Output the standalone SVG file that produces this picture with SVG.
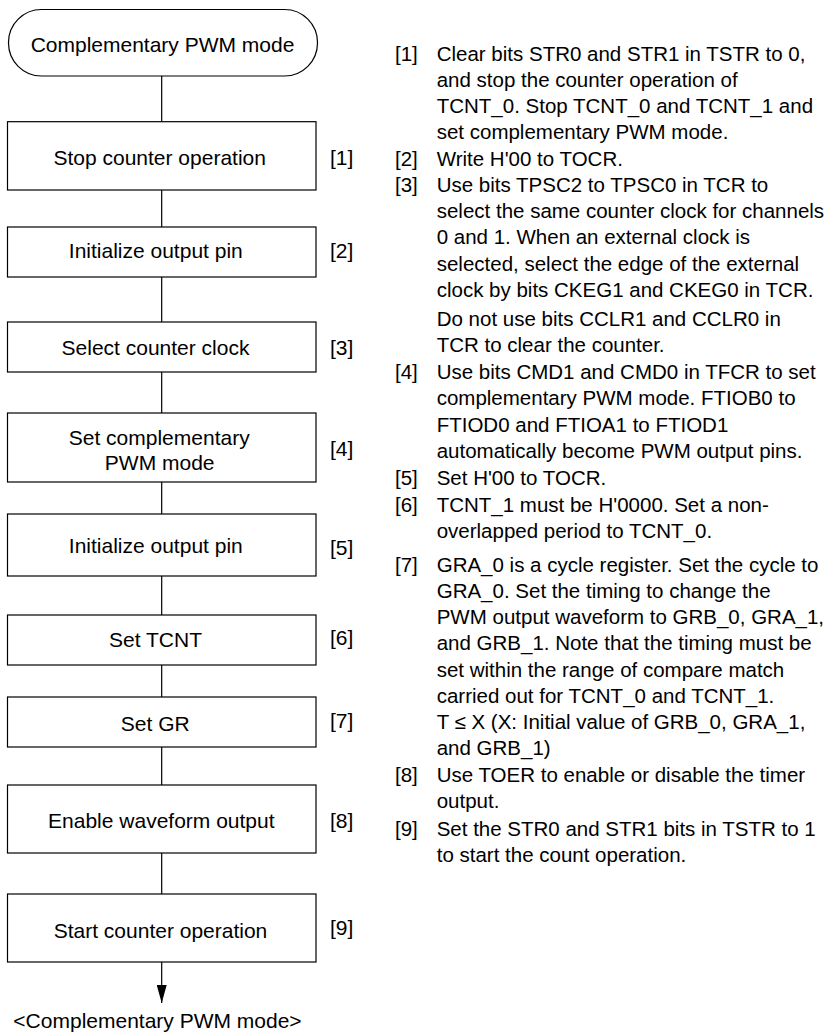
<svg xmlns="http://www.w3.org/2000/svg" width="840" height="1032" viewBox="0 0 840 1032">
<style>
.shape{fill:#fff;stroke:#000;stroke-width:1.2}
.t{font-family:"Liberation Sans",Arial,sans-serif;font-size:21px;fill:#000;text-anchor:middle}
.lbl{font-family:"Liberation Sans",Arial,sans-serif;font-size:21px;fill:#000}
.d{font-family:"Liberation Sans",Arial,sans-serif;font-size:20.5px;fill:#000}
.c{stroke:#000;stroke-width:1.2;fill:none}
</style>
<defs>
<marker id="ah" markerWidth="18" markerHeight="10" refX="18" refY="5" orient="auto" markerUnits="userSpaceOnUse" viewBox="0 0 18 10">
<path d="M0,0 L18,5 L0,10 Z" fill="#000"/>
</marker>
</defs>
<rect width="840" height="1032" fill="#fff"/>
<g id="connectors">
<line class="c" x1="161.7" y1="76" x2="161.7" y2="121.7"/>
<line class="c" x1="161.7" y1="190" x2="161.7" y2="227"/>
<line class="c" x1="161.7" y1="277" x2="161.7" y2="322"/>
<line class="c" x1="161.7" y1="372" x2="161.7" y2="413"/>
<line class="c" x1="161.7" y1="482" x2="161.7" y2="514"/>
<line class="c" x1="161.7" y1="576" x2="161.7" y2="615"/>
<line class="c" x1="161.7" y1="665" x2="161.7" y2="697"/>
<line class="c" x1="161.7" y1="747" x2="161.7" y2="785"/>
<line class="c" x1="161.7" y1="853" x2="161.7" y2="894"/>
<line class="c" x1="161.7" y1="962" x2="161.7" y2="1003" marker-end="url(#ah)"/>
</g>
<g id="start">
<rect class="shape" x="8.5" y="9.5" width="309" height="66.5" rx="33" ry="33"/>
<text class="t" x="162.5" y="51.7">Complementary PWM mode</text>
</g>
<g id="n1">
<rect class="shape" x="7.5" y="121.7" width="308.5" height="68.3"/>
<text class="t" x="159.7" y="165">Stop counter operation</text>
<text class="lbl" x="330" y="165">[1]</text>
</g>
<g id="n2">
<rect class="shape" x="7.5" y="227" width="308.5" height="50"/>
<text class="t" x="155.8" y="258">Initialize output pin</text>
<text class="lbl" x="330" y="258">[2]</text>
</g>
<g id="n3">
<rect class="shape" x="7.5" y="322" width="308.5" height="50"/>
<text class="t" x="155.5" y="355">Select counter clock</text>
<text class="lbl" x="330" y="355">[3]</text>
</g>
<g id="n4">
<rect class="shape" x="7.5" y="413" width="308.5" height="69"/>
<text class="t" x="159.2" y="445">Set complementary</text>
<text class="t" x="159.7" y="470">PWM mode</text>
<text class="lbl" x="330" y="456">[4]</text>
</g>
<g id="n5">
<rect class="shape" x="7.5" y="514" width="308.5" height="62"/>
<text class="t" x="155.8" y="553">Initialize output pin</text>
<text class="lbl" x="330" y="555">[5]</text>
</g>
<g id="n6">
<rect class="shape" x="7.5" y="615" width="308.5" height="50"/>
<text class="t" x="155.5" y="647">Set TCNT</text>
<text class="lbl" x="330" y="645">[6]</text>
</g>
<g id="n7">
<rect class="shape" x="7.5" y="697" width="308.5" height="50"/>
<text class="t" x="155.3" y="731">Set GR</text>
<text class="lbl" x="330" y="728">[7]</text>
</g>
<g id="n8">
<rect class="shape" x="7.5" y="785" width="308.5" height="68"/>
<text class="t" x="161.3" y="828">Enable waveform output</text>
<text class="lbl" x="330" y="828">[8]</text>
</g>
<g id="n9">
<rect class="shape" x="7.5" y="894" width="308.5" height="68"/>
<text class="t" x="160.5" y="938">Start counter operation</text>
<text class="lbl" x="330" y="935">[9]</text>
</g>
<g id="end">
<text class="t" x="157.5" y="1028">&lt;Complementary PWM mode&gt;</text>
</g>
<g id="notes">
<text class="d" x="395" y="60.5">[1]</text>
<text class="d" x="436.7" y="60.5">Clear bits STR0 and STR1 in TSTR to 0,</text>
<text class="d" x="436.7" y="86.8">and stop the counter operation of</text>
<text class="d" x="436.7" y="113">TCNT_0. Stop TCNT_0 and TCNT_1 and</text>
<text class="d" x="436.7" y="139.3">set complementary PWM mode.</text>
<text class="d" x="395" y="165.5">[2]</text>
<text class="d" x="436.7" y="165.5">Write H'00 to TOCR.</text>
<text class="d" x="395" y="191.8">[3]</text>
<text class="d" x="436.7" y="191.8">Use bits TPSC2 to TPSC0 in TCR to</text>
<text class="d" x="436.7" y="218">select the same counter clock for channels</text>
<text class="d" x="436.7" y="244.3">0 and 1. When an external clock is</text>
<text class="d" x="436.7" y="270.6">selected, select the edge of the external</text>
<text class="d" x="436.7" y="297">clock by bits CKEG1 and CKEG0 in TCR.</text>
<text class="d" x="436.7" y="326">Do not use bits CCLR1 and CCLR0 in</text>
<text class="d" x="436.7" y="352">TCR to clear the counter.</text>
<text class="d" x="395" y="379">[4]</text>
<text class="d" x="436.7" y="379">Use bits CMD1 and CMD0 in TFCR to set</text>
<text class="d" x="436.7" y="405">complementary PWM mode. FTIOB0 to</text>
<text class="d" x="436.7" y="431.5">FTIOD0 and FTIOA1 to FTIOD1</text>
<text class="d" x="436.7" y="458">automatically become PWM output pins.</text>
<text class="d" x="395" y="485">[5]</text>
<text class="d" x="436.7" y="485">Set H'00 to TOCR.</text>
<text class="d" x="395" y="511.7">[6]</text>
<text class="d" x="436.7" y="511.7">TCNT_1 must be H'0000. Set a non-</text>
<text class="d" x="436.7" y="538">overlapped period to TCNT_0.</text>
<text class="d" x="395" y="571.7">[7]</text>
<text class="d" x="436.7" y="571.7">GRA_0 is a cycle register. Set the cycle to</text>
<text class="d" x="436.7" y="598">GRA_0. Set the timing to change the</text>
<text class="d" x="436.7" y="624">PWM output waveform to GRB_0, GRA_1,</text>
<text class="d" x="436.7" y="650">and GRB_1. Note that the timing must be</text>
<text class="d" x="436.7" y="676.7">set within the range of compare match</text>
<text class="d" x="436.7" y="702.7">carried out for TCNT_0 and TCNT_1.</text>
<text class="d" x="436.7" y="729">T ≤ X (X: Initial value of GRB_0, GRA_1,</text>
<text class="d" x="436.7" y="755">and GRB_1)</text>
<text class="d" x="395" y="781.7">[8]</text>
<text class="d" x="436.7" y="781.7">Use TOER to enable or disable the timer</text>
<text class="d" x="436.7" y="807.5">output.</text>
<text class="d" x="395" y="836">[9]</text>
<text class="d" x="436.7" y="836">Set the STR0 and STR1 bits in TSTR to 1</text>
<text class="d" x="436.7" y="861.7">to start the count operation.</text>
</g>
</svg>
